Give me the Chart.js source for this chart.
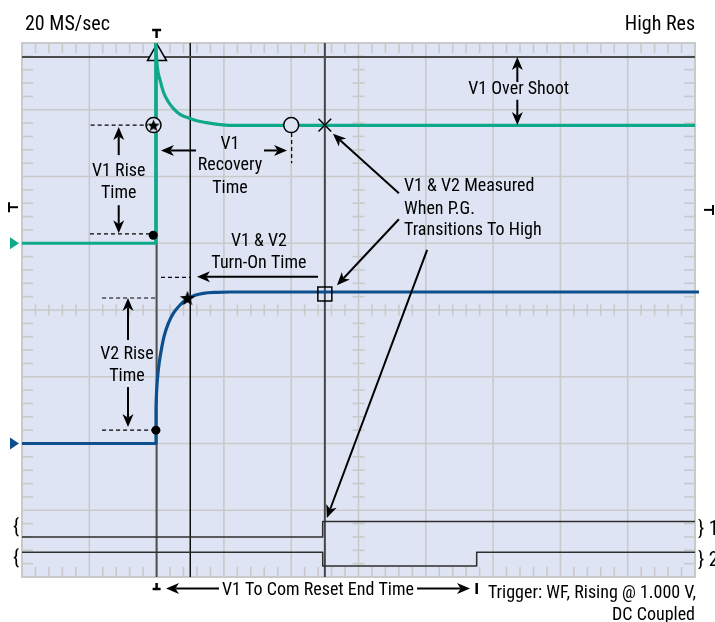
<!DOCTYPE html>
<html>
<head>
<meta charset="utf-8">
<script src="https://cdn.jsdelivr.net/npm/chart.js@4"></script>
<style>
  html, body { margin: 0; padding: 0; background: #fff; }
  #wrap { width: 715px; height: 622px; }
</style>
</head>
<body>
<div id="wrap"><canvas id="scope" width="715" height="622"></canvas></div>
<script>
// all values are in screen divisions: 10 across, 8 up
const v1EdgeX = [0, 1.987, 1.987];
const v1EdgeY = [5.0, 5.0, 8.0];
const v1SettleX = [1.987, 2.010, 2.051, 2.100, 2.174, 2.248, 2.348, 2.447, 2.596, 2.744, 2.942, 3.09, 10];
const v1SettleY = [8.0, 7.645, 7.446, 7.27, 7.12, 7.02, 6.93, 6.887, 6.836, 6.806, 6.776, 6.767, 6.765];

const v2EdgeX = [0, 1.991, 1.991];
const v2EdgeY = [2.0, 2.0, 2.55];
const v2SettleX = [1.991, 2.001, 2.025, 2.061, 2.110, 2.174, 2.248, 2.348, 2.447, 2.571, 2.694, 2.893, 3.09, 10.06];
const v2SettleY = [2.55, 2.80, 3.10, 3.35, 3.60, 3.80, 3.95, 4.075, 4.16, 4.22, 4.25, 4.265, 4.27, 4.27];

// power good / reset logic lines
const pg1X = [0, 4.468, 10];
const pg1Y = [0.60, 0.83, 0.83];
const pg2X = [0, 4.468, 6.756, 10];
const pg2Y = [0.37, 0.165, 0.37, 0.37];

const cursorX = [2.0, 2.5, 4.5];
const overshootY = 7.79;

// measurement markers
const peakX = [2.006], peakY = [7.82];
const ringX = [1.954, 4.0], ringY = [6.77, 6.77];
const starX = [1.954, 2.46], starY = [6.77, 4.18];
const dotX = [1.95, 1.99], dotY = [5.12, 2.20];
const crossX = [4.5], crossY = [6.77];
const boxX = [4.5], boxY = [4.24];

// annotation lines: x1, y1, x2, y2
const dashes = [
  [1.02, 6.77, 1.87, 6.77],
  [1.01, 5.14, 1.90, 5.14],
  [4.007, 6.65, 4.007, 6.20],
  [2.065, 4.49, 2.50, 4.49],
  [1.19, 4.18, 2.0, 4.18],
  [1.19, 2.20, 1.976, 2.20]
];
// arrows: from x, y, to tip x, y
const arrows = [
  [7.36, 7.415, 7.36, 7.79],
  [7.36, 7.15, 7.36, 6.77],
  [1.437, 6.32, 1.437, 6.74],
  [1.437, 5.57, 1.437, 5.15],
  [2.585, 6.39, 2.065, 6.39],
  [3.596, 6.39, 3.938, 6.39],
  [4.398, 4.50, 2.60, 4.50],
  [1.575, 3.55, 1.575, 4.18],
  [1.575, 2.846, 1.575, 2.247],
  [5.60, 5.75, 4.62, 6.64],
  [5.60, 5.36, 4.68, 4.37],
  [6.02, 4.90, 4.53, 0.884],
  [2.927, -0.172, 2.14, -0.172],
  [5.87, -0.172, 6.657, -0.172]
];
const notes = [
  ['V1 Over Shoot', 7.38, 7.30, 'center'],
  ['V1 Rise', 1.437, 6.08, 'center'],
  ['Time', 1.437, 5.75, 'center'],
  ['V1', 3.09, 6.48, 'center'],
  ['Recovery', 3.09, 6.16, 'center'],
  ['Time', 3.09, 5.82, 'center'],
  ['V1 & V2 Measured', 5.676, 5.85, 'left'],
  ['When P.G.', 5.676, 5.51, 'left'],
  ['Transitions To High', 5.676, 5.19, 'left'],
  ['V1 & V2', 3.52, 5.03, 'center'],
  ['Turn-On Time', 3.52, 4.70, 'center'],
  ['V2 Rise', 1.56, 3.33, 'center'],
  ['Time', 1.56, 3.00, 'center'],
  ['V1 To Com Reset End Time', 4.398, -0.195, 'center']
];

const TEAL = '#10a88a';
const BLUE = '#0d4f8c';
const BG = '#dee4f3';
const FONT = "'Liberation Sans Narrow', 'Arial Narrow', 'Roboto Condensed', Roboto, sans-serif";

const pts = (xs, ys) => xs.map((x, i) => ({ x, y: ys[i] }));

function starMark(r) {
  const c = document.createElement('canvas');
  c.width = c.height = Math.ceil(2 * r + 2);
  const g = c.getContext('2d');
  const m = c.width / 2;
  g.beginPath();
  for (let i = 0; i < 10; i++) {
    const rr = i % 2 ? r * 0.42 : r;
    const a = -Math.PI / 2 + i * Math.PI / 5;
    g.lineTo(m + rr * Math.cos(a), m + rr * Math.sin(a) + r * 0.1);
  }
  g.closePath();
  g.fillStyle = '#000';
  g.fill();
  return c;
}

function arrow(ctx, x1, y1, x2, y2) {
  const a = Math.atan2(y2 - y1, x2 - x1);
  const len = 13, half = 5.5;
  const c = Math.cos(a), s = Math.sin(a);
  const bx = x2 - c * len, by = y2 - s * len;
  const nx = x2 - c * len * 0.72, ny = y2 - s * len * 0.72;
  ctx.beginPath();
  ctx.moveTo(x1, y1);
  ctx.lineTo(nx, ny);
  ctx.stroke();
  ctx.beginPath();
  ctx.moveTo(x2, y2);
  ctx.lineTo(bx - s * half, by + c * half);
  ctx.lineTo(nx, ny);
  ctx.lineTo(bx + s * half, by - c * half);
  ctx.closePath();
  ctx.fill();
}

function seg(ctx, x1, y1, x2, y2) {
  ctx.beginPath();
  ctx.moveTo(x1, y1);
  ctx.lineTo(x2, y2);
  ctx.stroke();
}

const scopePlugin = {
  id: 'scope',
  beforeDatasetsDraw(chart) {
    const { ctx, chartArea: a, scales: { x, y } } = chart;
    ctx.save();
    ctx.fillStyle = BG;
    ctx.fillRect(a.left, a.top, a.right - a.left, a.bottom - a.top);

    ctx.strokeStyle = '#c9c9c9';
    ctx.lineWidth = 1.6;
    for (let i = 0; i <= 10; i++) {
      const px = x.getPixelForValue(i);
      seg(ctx, px, a.top, px, a.bottom);
    }
    for (let j = 0; j <= 8; j++) {
      const py = y.getPixelForValue(j);
      seg(ctx, a.left, py, a.right, py);
    }
    // minor ticks
    const cy = y.getPixelForValue(4), cx = x.getPixelForValue(5);
    for (let k = 1; k < 50; k++) {
      if (k % 5 === 0) continue;
      const px = x.getPixelForValue(k / 5);
      seg(ctx, px, a.top, px, a.top + 10);
      seg(ctx, px, a.bottom - 10, px, a.bottom);
      seg(ctx, px, cy - 5.5, px, cy + 5.5);
    }
    for (let k = 1; k < 40; k++) {
      if (k % 5 === 0) continue;
      const py = y.getPixelForValue(k / 5);
      seg(ctx, a.left, py, a.left + 11, py);
      seg(ctx, a.right - 11, py, a.right, py);
      seg(ctx, cx - 6, py, cx + 6, py);
    }
    ctx.lineWidth = 2;
    ctx.strokeRect(a.left, a.top, a.right - a.left, a.bottom - a.top);

    // cursors
    const cursorInk = ['#505050', '#000', '#454545'];
    const cursorW = [2, 1.4, 2];
    cursorX.forEach((v, i) => {
      ctx.strokeStyle = cursorInk[i];
      ctx.lineWidth = cursorW[i];
      const px = x.getPixelForValue(v);
      seg(ctx, px, a.top, px, a.bottom);
    });
    ctx.strokeStyle = '#4a4a4a';
    ctx.lineWidth = 2;
    const oy = y.getPixelForValue(overshootY);
    seg(ctx, a.left, oy, a.right, oy);
    ctx.restore();
  },
  afterDatasetsDraw(chart) {
    const { ctx, chartArea: a, scales: { x, y } } = chart;
    const X = v => x.getPixelForValue(v), Y = v => y.getPixelForValue(v);
    ctx.save();
    ctx.strokeStyle = '#000';
    ctx.fillStyle = '#000';

    ctx.lineWidth = 1.2;
    ctx.setLineDash([4, 3]);
    dashes.forEach(d => seg(ctx, X(d[0]), Y(d[1]), X(d[2]), Y(d[3])));
    ctx.setLineDash([]);

    ctx.lineWidth = 2;
    arrows.forEach(d => arrow(ctx, X(d[0]), Y(d[1]), X(d[2]), Y(d[3])));

    ctx.font = '18px ' + FONT;
    ctx.textBaseline = 'middle';
    notes.forEach(n => {
      ctx.textAlign = n[3];
      ctx.fillText(n[0], X(n[1]), Y(n[2]));
    });

    // header and footer
    ctx.font = '20px ' + FONT;
    ctx.textAlign = 'left';
    ctx.fillText('20 MS/sec', a.left + 3, 25);
    ctx.textAlign = 'right';
    ctx.fillText('High Res', a.right, 25);
    ctx.font = '18px ' + FONT;
    ctx.fillText('Trigger: WF, Rising @ 1.000 V,', a.right + 1, a.bottom + 16);
    ctx.fillText('DC Coupled', a.right, a.bottom + 38);

    // trigger position marks
    ctx.lineWidth = 2.5;
    const tx = X(cursorX[0]);
    seg(ctx, tx - 4.5, 30, tx + 4.5, 30);
    seg(ctx, tx, 30, tx, 38);
    seg(ctx, tx - 4, a.bottom + 12, tx + 4, a.bottom + 12);
    seg(ctx, tx, a.bottom + 6, tx, a.bottom + 12);
    const ex = X(pg2X[2]);
    seg(ctx, ex, a.bottom + 6, ex, a.bottom + 17);
    // trigger level marks
    ctx.lineWidth = 2;
    const ly = Y(5.54), ry = Y(5.50);
    seg(ctx, 9, ly - 5, 9, ly + 5);
    seg(ctx, 9, ly, 18, ly);
    seg(ctx, 704, ry, 713, ry);
    seg(ctx, 713, ry - 5, 713, ry + 5);

    // channel ground marks
    [[v1EdgeY[0], TEAL], [v2EdgeY[0], BLUE]].forEach(([lv, col]) => {
      const py = Y(lv);
      ctx.fillStyle = col;
      ctx.beginPath();
      ctx.moveTo(10, py - 6);
      ctx.lineTo(19, py);
      ctx.lineTo(10, py + 6);
      ctx.closePath();
      ctx.fill();
    });

    // digital channel braces
    ctx.fillStyle = '#000';
    ctx.font = '20px ' + FONT;
    ctx.textAlign = 'center';
    ctx.fillText('{', 16, Y(0.74));
    ctx.fillText('{', 16, Y(0.27));
    ctx.textAlign = 'left';
    ctx.fillText('} 1', a.right + 3, Y(0.70));
    ctx.fillText('} 2', a.right + 3, Y(0.24));
    ctx.restore();
  }
};

const line = (data, color, width, extra) => Object.assign({
  data, showLine: true, borderColor: color, borderWidth: width,
  pointRadius: 0, tension: 0, borderJoinStyle: 'round', order: 5
}, extra || {});

const marks = (data, style, radius, extra) => Object.assign({
  data, showLine: false, pointStyle: style, pointRadius: radius,
  pointBorderColor: '#000', pointBackgroundColor: 'rgba(0,0,0,0)',
  pointBorderWidth: 1.5, order: 1
}, extra || {});

new Chart(document.getElementById('scope'), {
  type: 'scatter',
  data: {
    datasets: [
      marks(pts(peakX, peakY), 'triangle', 11, { pointBackgroundColor: BG, order: 8 }),
      line(pts(v1EdgeX, v1EdgeY), TEAL, 3.2, { clip: false }),
      line(pts(v1SettleX, v1SettleY), TEAL, 3.2, { cubicInterpolationMode: 'monotone', clip: false }),
      line(pts(v2EdgeX, v2EdgeY), BLUE, 3.2),
      line(pts(v2SettleX, v2SettleY), BLUE, 3.2, { cubicInterpolationMode: 'monotone', clip: false }),
      line(pts(pg1X, pg1Y), '#2e2e2e', 1.5, { stepped: 'before' }),
      line(pts(pg2X, pg2Y), '#2e2e2e', 1.5, { stepped: 'before' }),
      marks(pts(ringX, ringY), 'circle', 7.5, { pointBackgroundColor: BG, order: 2 }),
      marks(pts(starX, starY), [starMark(6.5), starMark(8)], 8),
      marks(pts(dotX, dotY), 'circle', 4.5, { pointBackgroundColor: '#000', pointBorderWidth: 0 }),
      marks(pts(crossX, crossY), 'crossRot', 9),
      marks(pts(boxX, boxY), 'rect', 9.9)
    ]
  },
  options: {
    responsive: false,
    animation: false,
    events: [],
    layout: { padding: { left: 22, right: 20, top: 43, bottom: 45 } },
    scales: {
      x: { type: 'linear', min: 0, max: 10, display: false },
      y: { type: 'linear', min: 0, max: 8, display: false }
    },
    plugins: { legend: { display: false }, tooltip: { enabled: false } }
  },
  plugins: [scopePlugin]
});
</script>
</body>
</html>
